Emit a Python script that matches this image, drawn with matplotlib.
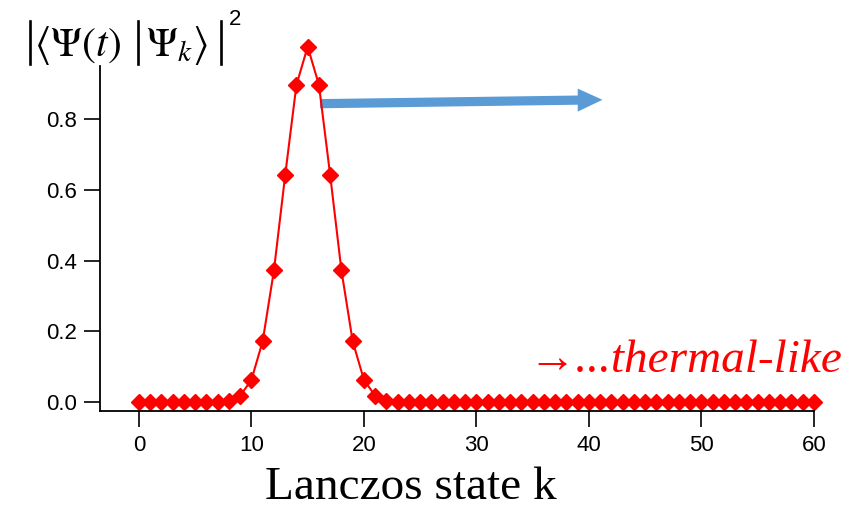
import numpy as np
import matplotlib
matplotlib.use('Agg')
import matplotlib.pyplot as plt
from matplotlib.patches import FancyArrow
from matplotlib.lines import Line2D

# 数据：Lanczos态上的概率分布
k = np.arange(0, 61)
peak = [0.003, 0.018, 0.063, 0.172, 0.372, 0.641, 0.896, 1.004,
        0.896, 0.641, 0.372, 0.172, 0.063, 0.018, 0.003]
prob = np.zeros(len(k))
prob[8:23] = peak

x_ticks = [0, 10, 20, 30, 40, 50, 60]
y_ticks = [0.0, 0.2, 0.4, 0.6, 0.8]

plt.rcParams['mathtext.fontset'] = 'stix'

W, H = 861, 509
fig = plt.figure(figsize=(8.61, 5.09), dpi=100)
ax = fig.add_axes([0.1156, 0.1925, 0.9454 - 0.1156, 0.909 - 0.1925])

ax.plot(k, prob, color='red', lw=1.5, marker='D', ms=8, mec='red', mfc='red', clip_on=False)

ax.set_xlim(-3.5, 60)
ax.set_ylim(-0.025, 1.005)
ax.spines['top'].set_visible(False)
ax.spines['right'].set_visible(False)
ax.spines['left'].set_bounds(-0.025, 0.95)
for s in ['left', 'bottom']:
    ax.spines[s].set_linewidth(1.3)

ax.set_xticks(x_ticks)
ax.set_yticks(y_ticks)
ax.set_yticklabels(['%.1f' % v for v in y_ticks])
ax.tick_params(direction='out', length=11.5, width=1.2, labelsize=16)
ax.tick_params(axis='y', pad=5)
ax.tick_params(axis='x', pad=6)
for lab in ax.get_xticklabels() + ax.get_yticklabels():
    lab.set_family('Liberation Sans')

# 横轴标题（原图中不在坐标轴正中）
fig.text(411 / W, 1 - 499 / H, 'Lanczos state k', family='Liberation Serif', fontsize=34,
         ha='center', va='baseline')

# 纵轴标题放在左上角：竖线单独画，使其比文字高
def px(x, y):
    return x / W, 1 - y / H

for xb in [30, 137.5, 220.5]:
    x0, y0 = px(xb, 21)
    x1, y1 = px(xb, 64)
    fig.add_artist(Line2D([x0, x1], [y0, y1], color='black', lw=1.9, transform=fig.transFigure))
fig.text(*px(34, 56), r'$\langle\Psi(t)$', fontsize=30, ha='left', va='baseline')
fig.text(*px(146, 56), r'$\Psi_k\rangle$', fontsize=30, ha='left', va='baseline')
fig.text(*px(229, 25), '2', family='Liberation Sans', fontsize=16, ha='left', va='baseline')

# 蓝色箭头
arr = FancyArrow(16.1, 0.843, 25.1, 0.011, width=0.026, head_width=0.065, head_length=2.2,
                 length_includes_head=True, color='#5b9bd5', lw=0)
ax.add_patch(arr)

ax.text(62.5, 0.085, '→...thermal-like', color='red', family='Liberation Serif', style='italic',
        fontsize=34, ha='right', va='baseline', clip_on=False)

fig.savefig('out.png', dpi=100)
